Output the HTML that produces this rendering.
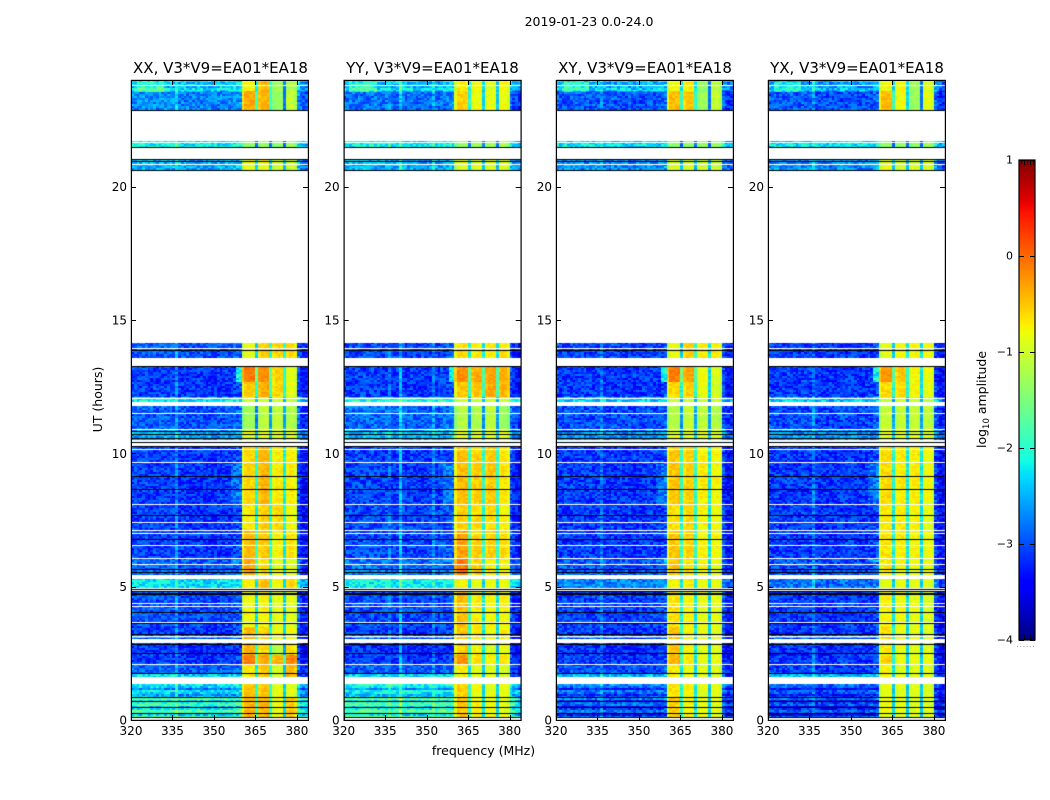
<!DOCTYPE html>
<html lang="en">
<head>
<meta charset="utf-8">
<title>2019-01-23 dynamic spectra</title>
<style>
html,body{margin:0;padding:0;background:#fff;}
#figure{position:relative;width:1050px;height:800px;overflow:hidden;background:#fff;font-family:"DejaVu Sans","Liberation Sans",sans-serif;}
canvas{position:absolute;left:0;top:0;}
svg{position:absolute;left:0;top:0;}
text{font-family:"DejaVu Sans","Liberation Sans",sans-serif;fill:#000;}
</style>
</head>
<body>
<div id="figure">
<canvas id="heat" width="1050" height="800"></canvas>
<svg id="overlay" width="1050" height="800" viewBox="0 0 1050 800">
<defs><linearGradient id="jetGrad" x1="0" y1="1" x2="0" y2="0"></linearGradient></defs>
<text x="589" y="26" font-size="12.5" text-anchor="middle">2019-01-23 0.0-24.0</text>
<text x="220.5" y="73" font-size="15" text-anchor="middle">XX, V3*V9=EA01*EA18</text>
<text x="432.5" y="73" font-size="15" text-anchor="middle">YY, V3*V9=EA01*EA18</text>
<text x="645" y="73" font-size="15" text-anchor="middle">XY, V3*V9=EA01*EA18</text>
<text x="857" y="73" font-size="15" text-anchor="middle">YX, V3*V9=EA01*EA18</text>
<text x="483.5" y="755" font-size="12.5" text-anchor="middle">frequency (MHz)</text>
<text transform="translate(102 399.5) rotate(-90)" font-size="12.5" text-anchor="middle">UT (hours)</text>
<text transform="translate(986 399.5) rotate(-90)" font-size="12.5" text-anchor="middle">log<tspan font-size="8.5" dy="3">10</tspan><tspan dy="-3"> amplitude</tspan></text>
<rect x="1019" y="160" width="15.5" height="480" fill="url(#jetGrad)"/>
</svg>
</div>
<script>
// ---- Axis ticks and panels ----
const panelNames = ['xx', 'yy', 'xy', 'yx'];
const panelLeft = [131, 343.7, 556, 768];
const freqTicks = [320, 335, 350, 365, 380];
const hourTicks = [0, 5, 10, 15, 20];
const colorTicks = [-4, -3, -2, -1, 0, 1];

// ---- Observation segments, hours UT (top of plot downward) ----
const segmentTop =    [23.96,23.59,21.71,21.04,14.14,13.28,12.68,12.11,11.78,10.88,10.24,8.10,7.13,6.08,5.29,4.88,3.49,2.85,2.44,2.10,1.35,0.86];
const segmentBottom = [23.59,22.88,21.49,20.63,13.56,12.68,12.11,11.93,10.88,10.24,8.10,7.13,6.08,5.44,4.88,3.49,2.85,2.44,2.10,1.61,0.86,0.11];

// ---- log10 amplitude outside the 360-380 MHz band, per segment ----
const lowXX = [-2.45,-2.75,-2.2,-2.55,-3.0,-3.15,-3.15,-2.25,-3.0,-2.6,-3.15,-3.15,-3.15,-2.95,-2.3,-3.05,-3.15,-3.2,-3.15,-2.95,-2.5,-2.1];
const lowYY = [-2.5,-2.85,-2.2,-2.55,-3.05,-3.1,-3.15,-2.1,-2.9,-2.5,-3.1,-3.05,-3.05,-2.85,-2.2,-3.05,-3.15,-3.2,-3.15,-2.95,-2.35,-2.0];
const lowXY = [-2.55,-3.0,-2.3,-2.7,-3.1,-3.15,-3.15,-2.4,-3.05,-2.7,-3.15,-3.15,-3.15,-3.0,-2.75,-3.1,-3.15,-3.2,-3.15,-3.05,-3.0,-3.05];
const lowYX = [-2.65,-3.0,-2.3,-2.7,-3.15,-3.15,-3.15,-2.45,-3.05,-2.7,-3.15,-3.15,-3.15,-3.05,-2.85,-3.15,-3.15,-3.2,-3.15,-3.1,-3.15,-3.15];

// ---- log10 amplitude in the four sub-bands, per segment ----
const bandXX = [[-.75,-.4,-1.3,-1.15],[-.35,-.4,-1.35,-1.05],[-1.4,-1.3,-1.4,-1.3],[-.85,-.8,-1,-1],[-.85,-.55,-.6,-.6],[-.1,-.2,-.55,-.85],[-.55,-.35,-.6,-.85],[-1,-1,-1,-1],[-1.3,-1.1,-1.1,-1.15],[-.9,-.9,-.9,-.9],[-.6,-.4,-.7,-.7],[-.7,-.55,-.6,-.8],[-.45,-.5,-.75,-.65],[-.35,-.65,-.85,-.85],[-.75,-.45,-.8,-.55],[-.8,-.75,-.85,-.85],[-.45,-.55,-.8,-.8],[-.4,-.6,-1.1,-.6],[-.1,-.3,-.4,-.1],[-.7,-.5,-.95,-.4],[-.5,-.5,-.85,-.85],[-.4,-.4,-.8,-.5]];
const bandYY = [[-.7,-.8,-.9,-.75],[-.55,-.8,-.85,-.8],[-1.3,-1.3,-1.3,-1.2],[-.9,-.95,-.9,-.9],[-.6,-.7,-.7,-.65],[-.2,-.35,-.3,-.35],[-.5,-.5,-.35,-.4],[-1,-1,-1,-1],[-1.15,-1.2,-1.1,-1.3],[-.9,-.9,-.9,-.9],[-.45,-.55,-.5,-.65],[-.55,-.6,-.6,-.75],[-.3,-.55,-.55,-.6],[-.1,-.55,-.7,-.7],[-.75,-.85,-.8,-.8],[-.45,-.7,-.75,-.75],[-.5,-.7,-.8,-.7],[-.55,-.75,-.95,-.8],[-.2,-.65,-.7,-.65],[-.7,-.85,-.9,-.9],[-.55,-.8,-.85,-.85],[-.5,-.75,-.8,-.85]];
const bandXY = [[-.8,-.7,-1.35,-1.1],[-.45,-.5,-1.3,-1.05],[-1.4,-1.35,-1.4,-1.3],[-.95,-.95,-1,-1],[-.85,-.55,-.7,-.7],[-.1,-.3,-.8,-.9],[-.6,-.55,-.85,-.95],[-1.05,-1.05,-1.05,-1.05],[-1.15,-1.05,-1.1,-1.15],[-.9,-.9,-.9,-.9],[-.5,-.55,-.7,-.75],[-.65,-.6,-.75,-.8],[-.5,-.55,-.75,-.75],[-.5,-.65,-.8,-.85],[-.75,-.7,-.8,-.8],[-.65,-.75,-.85,-.85],[-.5,-.75,-.85,-.85],[-.5,-.75,-.9,-.9],[-.4,-.7,-.85,-.8],[-.7,-.85,-.9,-.9],[-.65,-.75,-.85,-.85],[-.55,-.75,-.85,-.85]];
const bandYX = [[-.8,-.75,-1.3,-.95],[-.45,-.8,-1.3,-.85],[-1.4,-1.35,-1.4,-1.3],[-.85,-.95,-.95,-.95],[-.9,-.75,-.75,-.75],[-.25,-.5,-.75,-.8],[-.6,-.6,-.75,-.85],[-1.05,-1.05,-1.05,-1.05],[-1.05,-1.05,-1.05,-1.1],[-.9,-.9,-.9,-.9],[-.6,-.7,-.7,-.8],[-.7,-.7,-.75,-.85],[-.65,-.7,-.75,-.8],[-.7,-.8,-.85,-.85],[-.85,-.85,-.85,-.9],[-.75,-.8,-.85,-.9],[-.6,-.8,-.85,-.9],[-.7,-.85,-.9,-.9],[-.55,-.8,-.85,-.85],[-.75,-.9,-.9,-.9],[-.85,-.9,-.9,-.9],[-.8,-.85,-.9,-.9]];

// ---- Channel structure (1 MHz channels from 320 MHz) ----
const channelShape = [.05,.05,.05,.05,.05,.05,.05,.05,.05,.05,.05,.05,.05,.05,.05,.05,.05,0,0,0,0,0,0,0,0,0,0,0,0,0,0,0,.02,.02,.02,.02,.05,.05,.1,.15,-.3,0,0,0,0,-1.5,-.1,0,0,0,-1.5,-.1,0,0,0,-1.5,-.05,0,0,-.15,.1,-.1,-.2,-.25];
const bandEdges = [40, 46, 51, 56, 60];
const narrowLinesXX = [[16, .35]];
const narrowLinesYY = [[16, .2], [20, .6], [32, .25]];
const narrowLinesXY = [[16, .3], [20, .1]];
const narrowLinesYX = [[16, .3]];

// ---- Localised brightening in the low band: channel from, channel to, hour from, hour to, delta ----
const brightPatches = [[2,12,23.55,23.9,.45],[0,40,23.55,23.72,.2],[38,40,12.7,13.28,.9],[0,40,1.61,1.75,.6],[0,40,3.04,3.17,.8],[36,40,8.1,9.6,.25],[36,40,5.9,6.1,.35]];

// ---- Fine texture of the data ----
const speckle = [.12,-.3,.35,-.08,.22,-.38,.05,.3,-.18,-.02,.4,-.25,.15,-.34,.08,.26,-.12,-.4,.32,.02,-.22,.18,-.05,.38,-.3,.1,-.15,.28,-.36,.06,.2,-.1,.34,-.26,-.03,.16,-.2,.3,-.06,.24,-.32];
const rowStripes = [.1,.2,-.3,.15,.25,-.1,-.35,.2,.1,-.25,.3,.05,-.2];

// ---- Flagged rows, hours UT ----
const whiteBands = [[13.54,13.28],[11.93,11.79],[10.50,10.43],[10.39,10.28],[5.44,5.29],[3.04,2.90],[1.61,1.35],[0.11,0]];
const whiteLines = [23.81,21.69,20.84,13.94,12.09,11.51,10.90,10.16,9.66,8.09,7.41,7.14,7.00,6.57,6.09,5.85,4.95,4.88,4.38,4.28,3.66,3.16,2.09];
const blackLines = [22.88,21.47,21.04,20.96,20.64,13.88,13.28,10.84,10.74,10.56,10.41,10.26,9.14,8.65,7.68,6.78,5.65,5.54,4.91,4.82,4.78,4.74,4.05,3.63,3.24,3.21,2.84,2.50,1.75,0.87,0.71,0.48,0.27,0.11];

const lowLevels = [lowXX, lowYY, lowXY, lowYX];
const bandLevels = [bandXX, bandYY, bandXY, bandYX];
const narrowLines = [narrowLinesXX, narrowLinesYY, narrowLinesXY, narrowLinesYX];

// ---- Scales ----
const plotTop = 80, plotHeight = 640, plotWidth = 177;
const freqMin = 320, freqMax = 384, hourMax = 24;
function xScale(panel, f) { return panelLeft[panel] + (f - freqMin) / (freqMax - freqMin) * plotWidth; }
function yScale(h) { return plotTop + (hourMax - h) / hourMax * plotHeight; }
const cbTop = 160, cbHeight = 480, cbMin = -4, cbMax = 1;
function cbScale(v) { return cbTop + (cbMax - v) / (cbMax - cbMin) * cbHeight; }

function clamp01(v) { return Math.max(0, Math.min(1, v)); }
function jet(v) {
  const t = clamp01((v - cbMin) / (cbMax - cbMin));
  let r, g, b;
  if (t < .35) r = 0; else if (t < .66) r = (t - .35) / .31; else if (t < .89) r = 1; else r = 1 - (t - .89) / .11 * .5;
  if (t < .125) g = 0; else if (t < .375) g = (t - .125) / .25; else if (t < .64) g = 1; else if (t < .91) g = 1 - (t - .64) / .27; else g = 0;
  if (t < .11) b = .5 + t / .11 * .5; else if (t < .34) b = 1; else if (t < .65) b = 1 - (t - .34) / .31; else b = 0;
  return 'rgb(' + Math.round(r * 255) + ',' + Math.round(g * 255) + ',' + Math.round(b * 255) + ')';
}

// ---- Heatmaps ----
const ctx = document.getElementById('heat').getContext('2d');
const rowStep = 0.075;
function cellValue(p, s, ch, row, h) {
  let sub = -1;
  for (let k = 0; k < 4; k++) if (ch >= bandEdges[k] && ch < bandEdges[k + 1]) sub = k;
  const noise = speckle[(ch * ch * 3 + row * row * 5 + ch * row * 7 + row * 3 + p * 5) % speckle.length];
  let v;
  if (sub >= 0) {
    v = bandLevels[p][s][sub] + channelShape[ch] + noise * .3;
  } else {
    v = lowLevels[p][s] + channelShape[ch] + noise * .85;
    if (h < 1.35) v += rowStripes[row % rowStripes.length];
    brightPatches.forEach(function (q) {
      if (ch >= q[0] && ch < q[1] && h >= q[2] && h <= q[3]) v += q[4];
    });
  }
  narrowLines[p].forEach(function (n) { if (n[0] === ch) v += n[1]; });
  return v;
}
for (let p = 0; p < 4; p++) {
  for (let s = 0; s < segmentTop.length; s++) {
    const first = Math.floor(segmentBottom[s] / rowStep);
    const last = Math.ceil(segmentTop[s] / rowStep);
    for (let row = first; row < last; row++) {
      const h0 = Math.max(row * rowStep, segmentBottom[s]);
      const h1 = Math.min((row + 1) * rowStep, segmentTop[s]);
      const y0 = Math.round(yScale(h1)), y1 = Math.round(yScale(h0));
      if (y1 <= y0) continue;
      for (let ch = 0; ch < freqMax - freqMin; ch++) {
        const x0 = Math.round(xScale(p, freqMin + ch)), x1 = Math.round(xScale(p, freqMin + ch + 1));
        ctx.fillStyle = jet(cellValue(p, s, ch, row, (h0 + h1) / 2));
        ctx.fillRect(x0, y0, x1 - x0, y1 - y0);
      }
    }
  }
  const left = Math.round(panelLeft[p]);
  ctx.fillStyle = '#fff';
  whiteBands.forEach(function (b) {
    ctx.fillRect(left, Math.round(yScale(b[0])), plotWidth, Math.round(yScale(b[1])) - Math.round(yScale(b[0])));
  });
  whiteLines.forEach(function (h) { ctx.fillRect(left, Math.round(yScale(h)), plotWidth, 1); });
  ctx.fillStyle = '#000';
  blackLines.forEach(function (h) { ctx.fillRect(left, Math.round(yScale(h)), plotWidth, 1); });
}

// ---- Frames, ticks, labels ----
const svg = document.getElementById('overlay');
const NS = 'http://www.w3.org/2000/svg';
function line(x1, y1, x2, y2, w) {
  const l = document.createElementNS(NS, 'line');
  l.setAttribute('x1', x1);
  l.setAttribute('y1', y1);
  l.setAttribute('x2', x2);
  l.setAttribute('y2', y2);
  l.setAttribute('stroke', '#000');
  l.setAttribute('stroke-width', w || 1);
  svg.appendChild(l);
  return l;
}
function label(x, y, str, anchor) {
  const t = document.createElementNS(NS, 'text');
  t.setAttribute('x', x);
  t.setAttribute('y', y);
  t.setAttribute('font-size', '12');
  t.setAttribute('text-anchor', anchor);
  t.textContent = str;
  svg.appendChild(t);
  return t;
}
const plotBottom = plotTop + plotHeight;
panelNames.forEach(function (name, p) {
  const left = panelLeft[p], right = left + plotWidth;
  const frame = document.createElementNS(NS, 'rect');
  frame.setAttribute('x', left + .4);
  frame.setAttribute('y', plotTop + .4);
  frame.setAttribute('width', plotWidth);
  frame.setAttribute('height', plotHeight);
  frame.setAttribute('fill', 'none');
  frame.setAttribute('stroke', '#000');
  frame.setAttribute('stroke-width', '1.2');
  
  
  svg.appendChild(frame);
  freqTicks.forEach(function (f) {
    const x = Math.round(xScale(p, f)) + .5;
    const tb = line(x, plotBottom, x, plotBottom - 5);
    
    
    const tt = line(x, plotTop, x, plotTop + 5);
    
    
    const tl = label(xScale(p, f), 735, String(f), 'middle');
    
    
  });
  hourTicks.forEach(function (h) {
    const y = Math.round(yScale(h)) + .5;
    const ta = line(left, y, left + 5, y);
    
    
    const tb = line(right, y, right - 5, y);
    
    
    const tl = label(left - 4, yScale(h) + 4.5, String(h), 'end');
    
    
  });
});

// ---- Colorbar ----
const grad = document.getElementById('jetGrad');
for (let i = 0; i <= 64; i++) {
  const stop = document.createElementNS(NS, 'stop');
  stop.setAttribute('offset', (i / 64 * 100) + '%');
  stop.setAttribute('stop-color', jet(cbMin + (cbMax - cbMin) * i / 64));
  grad.appendChild(stop);
}
const cbOuter = document.createElementNS(NS, 'rect');
cbOuter.setAttribute('x', '1019');
cbOuter.setAttribute('y', '160');
cbOuter.setAttribute('width', '16');
cbOuter.setAttribute('height', '480');
cbOuter.setAttribute('fill', 'none');
cbOuter.setAttribute('stroke', '#000');
cbOuter.setAttribute('stroke-width', '1.2');


svg.appendChild(cbOuter);
colorTicks.forEach(function (v) {
  const y = Math.round(cbScale(v)) + .5;
  const a = line(1019, y, 1024, y);
  
  
  const b = line(1035, y, 1030, y);
  
  
  const str = v < 0 ? '\u2212' + Math.abs(v) : String(v);
  const t = label(1013, cbScale(v) + 3.5, str, 'end');
  t.setAttribute('font-size', '11');
  
  
});
[0, 1, 2, 3, 4].forEach(function (i) {
  const x = 1021.5 + i * 3;
  const a = line(x, 160, x, 165);
  
  
  const b = line(x, 640, x, 635);
  
  
});
[0, 1, 2, 3, 4, 5].forEach(function (i) {
  const d = document.createElementNS(NS, 'rect');
  d.setAttribute('x', 1017 + i * 3.2);
  d.setAttribute('y', '646');
  d.setAttribute('width', '1');
  d.setAttribute('height', '1');
  d.setAttribute('fill', '#999');
  
  
  svg.appendChild(d);
});
</script>
</body>
</html>
